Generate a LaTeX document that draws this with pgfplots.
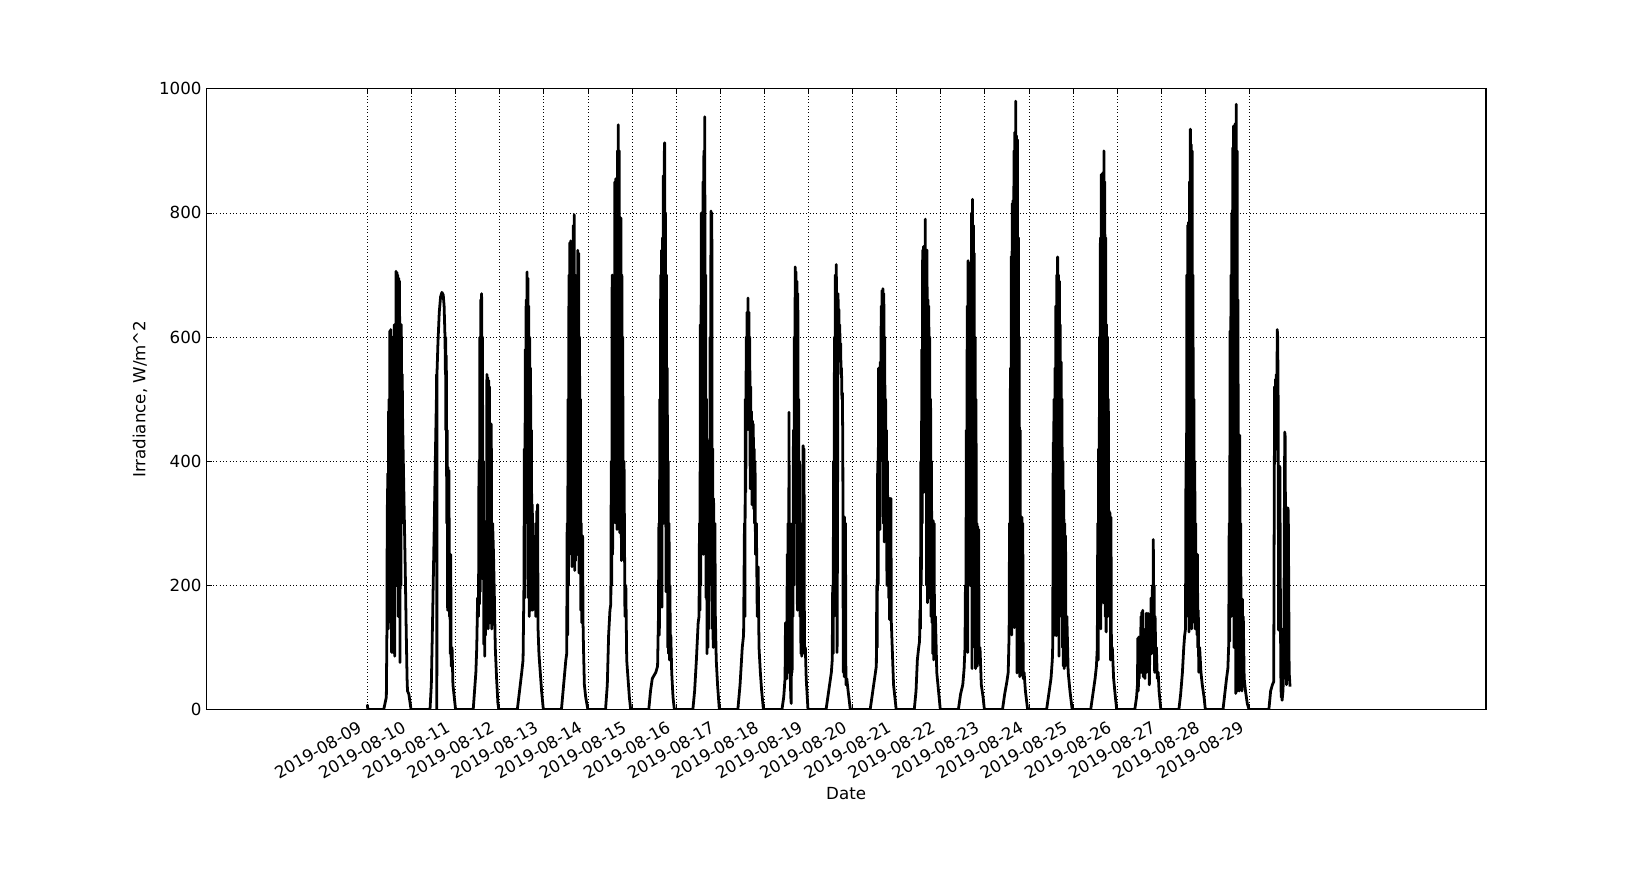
\documentclass[border=0pt]{standalone}
\usepackage{fontspec}
\setmainfont{DejaVu Sans}
\usepackage{pgfplots}
\pgfplotsset{compat=1.18}
\begin{document}
\begin{tikzpicture}
\useasboundingbox (-148.6pt,-127.7pt) rectangle (1040.1pt,510.9pt);
\begin{axis}[
  at={(0,0)}, anchor=south west,
  width=921.2pt, height=447.0pt, scale only axis,
  xmin=5.35, xmax=34.36, ymin=0, ymax=1000,
  xtick={9,10,11,12,13,14,15,16,17,18,19,20,21,22,23,24,25,26,27,28,29},
  xticklabels={2019-08-09,2019-08-10,2019-08-11,2019-08-12,2019-08-13,2019-08-14,2019-08-15,2019-08-16,2019-08-17,2019-08-18,2019-08-19,2019-08-20,2019-08-21,2019-08-22,2019-08-23,2019-08-24,2019-08-25,2019-08-26,2019-08-27,2019-08-28,2019-08-29},
  ytick={0,200,400,600,800,1000},
  /pgf/number format/assume math mode=true,
  /pgf/number format/set thousands separator={},
  tick label style={font=\fontsize{12}{14}\selectfont, black},
  xticklabel style={xshift=-7.6pt, yshift=-7.5pt, rotate=30, anchor=north east, inner sep=0pt},
  label style={font=\fontsize{12}{14}\selectfont},
  xlabel={Date},
  ylabel={Irradiance, W/m\textasciicircum 2},
  xlabel style={at={(axis description cs:0.5,-0.136)}, anchor=center},
  ylabel style={at={(axis description cs:-0.0519,0.5)}, anchor=center},
  tick align=inside,
  major tick length=4pt,
  every tick/.style={black, line width=0.5pt},
  axis line style={line width=1pt, black},
  grid=major,
  grid style={dotted, line width=0.5pt, black},
]
\addplot[black, line width=2pt, line join=round, mark=none] coordinates {
(9.0,8) (9.01,0)
(9.37,0) (9.43,20) (9.445,140) (9.45,330) (9.455,150) (9.46,380) (9.465,200) (9.47,250) (9.475,130) (9.48,480) (9.485,140) (9.49,500) (9.50,300) (9.51,610) (9.52,150) (9.53,612) (9.54,400) (9.55,92) (9.56,600) (9.57,95) (9.58,92) (9.59,550) (9.60,150) (9.61,620) (9.62,86) (9.63,500) (9.64,300) (9.65,706) (9.66,200) (9.67,704) (9.68,400) (9.69,700) (9.70,150) (9.71,695) (9.72,500) (9.73,690) (9.74,76) (9.75,600) (9.76,200) (9.77,620) (9.78,300) (9.79,540) (9.80,460) (9.82,380) (9.84,300) (9.86,220) (9.88,130) (9.90,50) (9.91,30) (9.94,25) (9.99,0)
(10.42,0) (10.45,40) (10.48,150) (10.51,270) (10.54,400) (10.565,500) (10.57,540) (10.575,0) (10.58,545) (10.60,590) (10.63,640) (10.66,665) (10.69,672) (10.72,668) (10.74,650) (10.76,600) (10.77,540) (10.775,600) (10.78,450) (10.79,570) (10.80,300) (10.81,450) (10.82,160) (10.83,390) (10.84,180) (10.85,385) (10.86,150) (10.87,250) (10.88,90) (10.89,250) (10.90,70) (10.92,100) (10.94,40) (10.97,20) (11.0,0)
(11.40,0) (11.43,30) (11.46,60) (11.48,100) (11.50,180) (11.52,150) (11.53,400) (11.54,170) (11.55,600) (11.56,190) (11.57,660) (11.58,610) (11.59,670) (11.60,300) (11.61,600) (11.62,210) (11.63,400) (11.64,105) (11.65,260) (11.66,86) (11.67,180) (11.68,120) (11.69,250) (11.70,140) (11.71,540) (11.72,200) (11.73,535) (11.74,130) (11.75,530) (11.76,250) (11.77,520) (11.78,140) (11.79,460) (11.80,200) (11.81,460) (11.82,130) (11.84,300) (11.86,250) (11.88,180) (11.90,100) (11.93,50) (11.96,10) (11.98,0)
(12.40,0) (12.45,30) (12.50,60) (12.53,80) (12.55,200) (12.56,420) (12.57,180) (12.58,580) (12.59,300) (12.60,660) (12.61,400) (12.62,705) (12.63,500) (12.64,695) (12.65,180) (12.66,650) (12.67,150) (12.68,600) (12.69,250) (12.70,550) (12.71,160) (12.72,450) (12.73,180) (12.74,330) (12.75,160) (12.76,300) (12.77,200) (12.78,280) (12.79,170) (12.80,250) (12.82,150) (12.84,320) (12.85,200) (12.86,330) (12.87,130) (12.89,90) (12.92,60) (12.95,30) (12.99,0)
(13.40,0) (13.45,40) (13.50,80) (13.52,90) (13.53,300) (13.54,120) (13.55,500) (13.56,200) (13.57,700) (13.58,300) (13.59,752) (13.60,400) (13.61,755) (13.62,250) (13.63,700) (13.64,230) (13.65,600) (13.66,300) (13.67,780) (13.68,500) (13.69,797) (13.70,224) (13.71,700) (13.72,240) (13.73,650) (13.74,300) (13.75,600) (13.76,250) (13.77,740) (13.78,280) (13.79,735) (13.80,220) (13.81,600) (13.82,300) (13.83,500) (13.84,160) (13.85,300) (13.86,140) (13.88,280) (13.89,140) (13.90,100) (13.92,40) (13.95,20) (14.0,0)
(14.40,0) (14.44,40) (14.47,120) (14.50,160) (14.52,170) (14.53,400) (14.54,200) (14.55,700) (14.56,250) (14.57,500) (14.58,300) (14.59,700) (14.60,350) (14.61,850) (14.62,500) (14.63,855) (14.64,300) (14.65,800) (14.66,290) (14.67,900) (14.68,500) (14.69,942) (14.70,350) (14.71,900) (14.72,285) (14.73,790) (14.74,400) (14.75,792) (14.76,240) (14.77,700) (14.78,300) (14.79,600) (14.80,250) (14.82,400) (14.84,150) (14.86,200) (14.88,80) (14.91,50) (14.94,20) (14.97,0)
(15.38,0) (15.42,30) (15.46,50) (15.50,55) (15.54,60) (15.58,70) (15.60,150) (15.61,300) (15.62,120) (15.63,500) (15.64,180) (15.65,700) (15.66,300) (15.67,740) (15.68,165) (15.69,760) (15.70,400) (15.71,860) (15.72,300) (15.73,890) (15.74,913) (15.75,500) (15.76,800) (15.77,190) (15.78,700) (15.79,300) (15.80,550) (15.81,100) (15.82,400) (15.83,90) (15.84,300) (15.85,80) (15.86,200) (15.87,90) (15.88,120) (15.90,60) (15.93,20) (15.96,0)
(16.38,0) (16.42,30) (16.46,80) (16.50,140) (16.52,150) (16.53,300) (16.54,160) (16.55,620) (16.56,200) (16.57,800) (16.58,300) (16.59,700) (16.60,400) (16.61,850) (16.62,250) (16.63,900) (16.64,400) (16.65,955) (16.66,300) (16.67,700) (16.68,180) (16.69,500) (16.70,90) (16.71,400) (16.72,100) (16.73,350) (16.74,130) (16.75,300) (16.76,200) (16.77,600) (16.78,300) (16.79,803) (16.80,250) (16.81,800) (16.82,130) (16.83,420) (16.84,100) (16.85,340) (16.86,120) (16.88,300) (16.89,150) (16.91,80) (16.94,40) (16.98,0)
(17.40,0) (17.45,40) (17.50,100) (17.53,120) (17.55,300) (17.56,150) (17.57,500) (17.58,350) (17.59,600) (17.60,450) (17.61,640) (17.62,550) (17.63,663) (17.64,560) (17.65,640) (17.66,450) (17.67,600) (17.68,356) (17.69,520) (17.70,400) (17.71,480) (17.72,330) (17.73,465) (17.74,360) (17.75,460) (17.76,323) (17.77,420) (17.78,300) (17.79,400) (17.80,250) (17.82,300) (17.84,150) (17.86,230) (17.88,100) (17.91,60) (17.94,30) (17.98,0)
(18.40,0) (18.44,20) (18.47,50) (18.48,140) (18.49,60) (18.50,140) (18.51,50) (18.52,250) (18.53,100) (18.54,300) (18.55,60) (18.56,479) (18.57,80) (18.58,300) (18.59,50) (18.60,20) (18.61,10) (18.62,150) (18.63,60) (18.64,300) (18.65,150) (18.66,450) (18.67,200) (18.68,600) (18.69,300) (18.70,713) (18.71,400) (18.72,705) (18.73,450) (18.74,690) (18.75,160) (18.76,670) (18.77,170) (18.78,500) (18.79,160) (18.80,400) (18.81,150) (18.82,300) (18.83,90) (18.84,250) (18.85,86) (18.86,200) (18.87,160) (18.88,425) (18.89,150) (18.90,420) (18.91,90) (18.93,100) (18.95,50) (18.99,0)
(19.40,0) (19.44,20) (19.48,40) (19.52,60) (19.54,80) (19.55,200) (19.56,90) (19.57,400) (19.58,150) (19.59,600) (19.60,300) (19.61,700) (19.62,500) (19.63,717) (19.64,660) (19.65,92) (19.66,300) (19.67,670) (19.68,640) (19.69,645) (19.70,600) (19.71,620) (19.72,570) (19.73,590) (19.74,540) (19.75,550) (19.76,500) (19.77,510) (19.78,420) (19.79,60) (19.80,300) (19.81,53) (19.82,310) (19.83,60) (19.84,300) (19.85,40) (19.87,50) (19.90,30) (19.95,0)
(20.40,0) (20.44,20) (20.48,40) (20.52,60) (20.54,70) (20.55,200) (20.56,100) (20.57,400) (20.58,200) (20.59,550) (20.60,300) (20.61,500) (20.62,290) (20.63,560) (20.64,400) (20.65,650) (20.66,500) (20.67,675) (20.68,600) (20.69,678) (20.70,300) (20.71,670) (20.72,270) (20.73,600) (20.74,350) (20.75,500) (20.76,300) (20.77,450) (20.78,200) (20.79,400) (20.80,300) (20.81,340) (20.82,180) (20.83,340) (20.84,145) (20.85,340) (20.86,150) (20.87,340) (20.88,140) (20.90,100) (20.93,40) (20.96,20) (20.99,0)
(21.40,0) (21.44,30) (21.47,80) (21.50,100) (21.52,110) (21.53,160) (21.54,130) (21.55,400) (21.56,200) (21.57,580) (21.58,300) (21.59,740) (21.60,400) (21.61,746) (21.62,350) (21.63,740) (21.64,500) (21.65,790) (21.66,400) (21.67,700) (21.68,200) (21.69,740) (21.70,172) (21.71,660) (21.72,300) (21.73,650) (21.74,180) (21.75,600) (21.76,200) (21.77,500) (21.78,150) (21.79,400) (21.80,140) (21.81,300) (21.82,90) (21.83,304) (21.84,80) (21.85,300) (21.86,90) (21.88,150) (21.91,60) (21.95,30) (21.99,0)
(22.40,0) (22.45,25) (22.50,40) (22.53,66) (22.55,100) (22.56,200) (22.57,105) (22.58,450) (22.59,150) (22.60,650) (22.61,92) (22.62,723) (22.63,300) (22.64,720) (22.65,400) (22.66,600) (22.67,200) (22.68,700) (22.69,300) (22.70,800) (22.71,66) (22.72,822) (22.73,400) (22.74,780) (22.75,150) (22.76,735) (22.77,100) (22.78,600) (22.79,66) (22.80,500) (22.81,150) (22.82,300) (22.83,70) (22.84,295) (22.85,80) (22.86,290) (22.87,75) (22.89,100) (22.92,40) (22.96,20) (22.99,0)
(23.40,0) (23.45,25) (23.50,45) (23.53,60) (23.55,120) (23.56,300) (23.57,130) (23.58,550) (23.59,200) (23.60,730) (23.61,120) (23.62,815) (23.63,300) (23.64,820) (23.65,500) (23.66,900) (23.67,132) (23.68,930) (23.69,400) (23.70,980) (23.71,300) (23.72,924) (23.73,59) (23.74,918) (23.75,200) (23.76,760) (23.77,60) (23.78,600) (23.79,53) (23.80,450) (23.81,100) (23.82,310) (23.83,60) (23.84,310) (23.85,55) (23.86,300) (23.87,50) (23.89,60) (23.92,30) (23.97,0)
(24.40,0) (24.45,25) (24.50,50) (24.53,80) (24.54,105) (24.55,430) (24.56,420) (24.57,500) (24.58,120) (24.59,550) (24.60,300) (24.61,650) (24.62,119) (24.63,700) (24.64,400) (24.65,729) (24.66,500) (24.67,700) (24.68,86) (24.69,690) (24.70,300) (24.71,620) (24.72,200) (24.73,560) (24.74,150) (24.75,500) (24.76,100) (24.77,400) (24.78,70) (24.79,353) (24.80,66) (24.81,300) (24.82,70) (24.83,280) (24.84,80) (24.86,150) (24.89,60) (24.93,30) (24.98,0)
(25.40,0) (25.45,25) (25.50,50) (25.53,70) (25.55,100) (25.56,300) (25.57,80) (25.58,420) (25.59,150) (25.60,600) (25.61,300) (25.62,760) (25.63,130) (25.64,862) (25.65,400) (25.66,860) (25.67,300) (25.68,865) (25.69,172) (25.70,900) (25.71,500) (25.72,850) (25.73,150) (25.74,760) (25.75,125) (25.76,620) (25.77,160) (25.78,600) (25.79,150) (25.80,500) (25.81,160) (25.82,320) (25.83,150) (25.84,317) (25.85,80) (25.86,310) (25.87,90) (25.89,100) (25.92,50) (25.96,20) (25.99,0)
(26.40,0) (26.44,20) (26.46,40) (26.47,115) (26.48,30) (26.49,117) (26.50,50) (26.51,90) (26.53,60) (26.54,150) (26.55,60) (26.56,157) (26.57,100) (26.58,160) (26.59,53) (26.60,120) (26.61,60) (26.62,100) (26.63,50) (26.64,130) (26.65,66) (26.66,155) (26.67,60) (26.68,150) (26.69,80) (26.70,155) (26.71,70) (26.72,130) (26.73,40) (26.75,150) (26.76,100) (26.77,180) (26.78,90) (26.80,200) (26.81,100) (26.82,274) (26.83,90) (26.84,200) (26.85,60) (26.86,150) (26.87,110) (26.88,60) (26.89,100) (26.91,50) (26.93,60) (26.95,30) (26.99,0)
(27.40,0) (27.44,25) (27.48,60) (27.51,100) (27.53,119) (27.55,130) (27.56,400) (27.57,150) (27.58,700) (27.59,200) (27.60,780) (27.61,300) (27.62,785) (27.63,125) (27.64,850) (27.65,400) (27.66,935) (27.67,300) (27.68,910) (27.69,130) (27.70,900) (27.71,500) (27.72,700) (27.73,150) (27.74,500) (27.75,140) (27.76,400) (27.77,130) (27.78,300) (27.79,140) (27.80,250) (27.81,120) (27.82,250) (27.83,100) (27.84,160) (27.85,60) (27.87,100) (27.90,60) (27.93,40) (27.97,20) (28.0,0)
(28.40,0) (28.44,25) (28.48,50) (28.51,66) (28.53,105) (28.54,300) (28.55,110) (28.56,610) (28.57,200) (28.58,700) (28.59,150) (28.60,800) (28.61,300) (28.62,905) (28.63,400) (28.64,940) (28.65,100) (28.66,900) (28.67,200) (28.68,944) (28.69,26) (28.70,975) (28.71,300) (28.72,900) (28.73,30) (28.74,660) (28.75,100) (28.76,440) (28.77,30) (28.78,442) (28.79,40) (28.80,300) (28.81,120) (28.82,175) (28.83,30) (28.84,178) (28.85,40) (28.86,150) (28.88,50) (28.91,30) (28.95,10) (28.99,0)
(29.44,0) (29.48,30) (29.52,40) (29.55,45) (29.56,300) (29.57,520) (29.58,400) (29.59,532) (29.60,500) (29.61,540) (29.62,480) (29.63,612) (29.64,600) (29.65,500) (29.66,128) (29.67,390) (29.68,392) (29.69,390) (29.70,200) (29.71,60) (29.72,20) (29.73,130) (29.74,15) (29.76,30) (29.78,80) (29.79,300) (29.80,447) (29.81,440) (29.82,200) (29.83,69) (29.84,40) (29.86,100) (29.87,325) (29.88,320) (29.89,200) (29.90,60) (29.92,37)
};
\end{axis}
\end{tikzpicture}
\end{document}
